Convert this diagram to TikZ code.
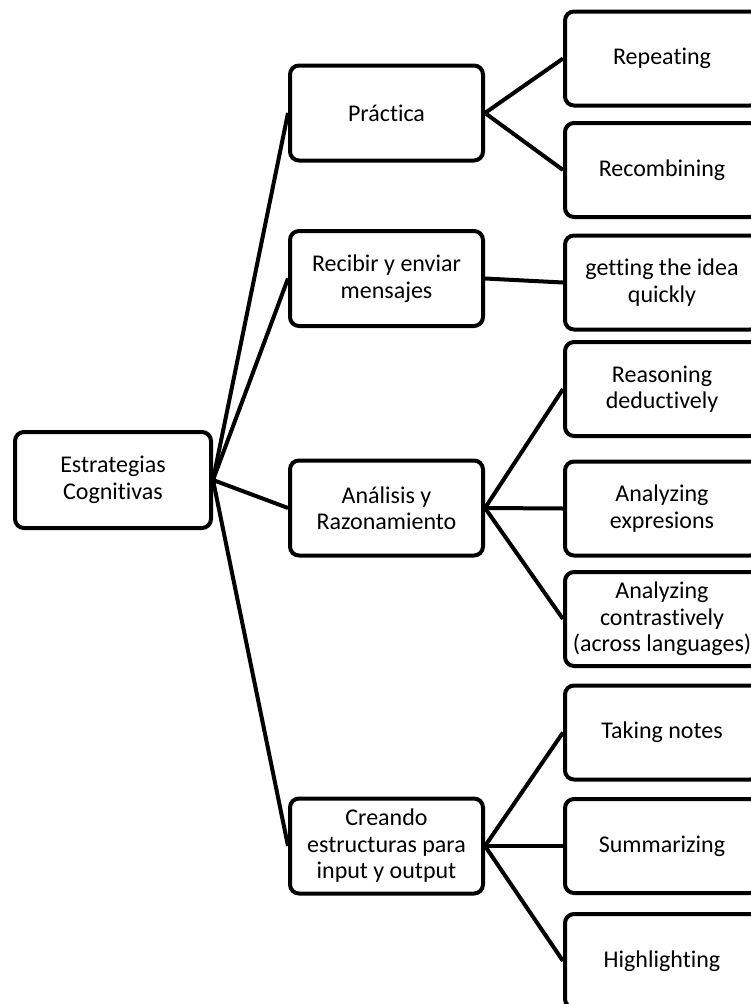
\documentclass[tikz,border=0pt]{standalone}
\usepackage{fontspec}
\setmainfont{Carlito}[Ligatures=NoCommon]
\begin{document}
\begin{tikzpicture}[x=1pt,y=-1pt,
  box/.style={draw=black,line width=4pt,rounded corners=9pt,fill=white,
    align=center,inner sep=0pt,font=\fontsize{24}{26.5}\selectfont},
  rootbox/.style={box,minimum width=196pt,minimum height=96pt},
  midbox/.style={box,minimum width=193pt,minimum height=95pt},
  leafbox/.style={box,minimum width=194pt,minimum height=94pt},
  link/.style={line width=4pt}]
\useasboundingbox (0,0) rectangle (751,1004);
\clip (0,0) rectangle (751,1004);
\fill[white] (0,0) rectangle (751,1004);

% root
\node[rootbox] (root) at (113,480) {Estrategias\\Cognitivas};

% first level
\node[midbox] (prac) at (386.5,113) {Práctica};
\node[midbox] (recib) at (386.5,278.5) {Recibir y enviar\\mensajes};
\node[midbox] (anal) at (386.5,508) {Análisis y\\Razonamiento};
\node[midbox] (crea) at (386.5,846) {Creando\\estructuras para\\input y output};

% second level
\node[leafbox] (rep) at (662,58.5) {Repeating};
\node[leafbox] (recomb) at (662,170) {Recombining};
\node[leafbox] (getting) at (662,282.5) {getting the idea\\quickly};
\node[leafbox] (reas) at (662,389) {Reasoning\\deductively};
\node[leafbox] (anexp) at (662,508.5) {Analyzing\\expresions};
\node[leafbox] (ancon) at (662,619) {Analyzing\\contrastively\\(across languages)};
\node[leafbox] (notes) at (662,732.5) {Taking notes};
\node[leafbox] (summ) at (662,846) {Summarizing};
\node[leafbox] (high) at (662,961) {Highlighting};

% connectors
\foreach \n in {prac,recib,anal,crea}
  \draw[link] (root.east) -- (\n.west);
\draw[link] (prac.east) -- (rep.west);
\draw[link] (prac.east) -- (recomb.west);
\draw[link] (recib.east) -- (getting.west);
\draw[link] (anal.east) -- (reas.west);
\draw[link] (anal.east) -- (anexp.west);
\draw[link] (anal.east) -- (ancon.west);
\draw[link] (crea.east) -- (notes.west);
\draw[link] (crea.east) -- (summ.west);
\draw[link] (crea.east) -- (high.west);
\end{tikzpicture}
\end{document}
